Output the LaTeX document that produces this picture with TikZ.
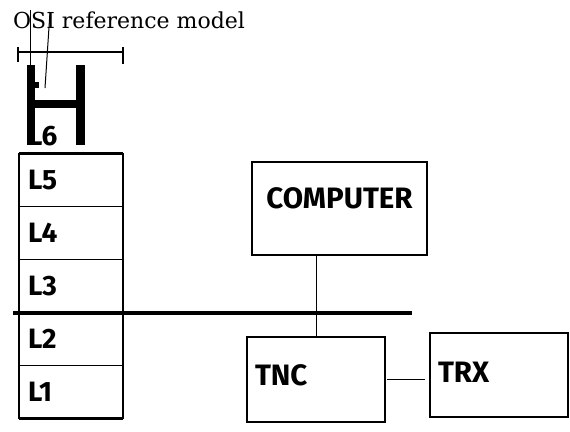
\documentclass[tikz,border=0pt]{standalone}
\usepackage{fontspec}
\setsansfont{Fira Sans}
\newfontfamily\titlefont{DejaVu Serif}
\usetikzlibrary{positioning,calc}

\begin{document}
\begin{tikzpicture}[
        x=1pt, y=-1pt,
        layer/.style={draw, line width=1.1pt, outer sep=0pt, minimum width=104pt, minimum height=53pt,
            inner xsep=9pt, text width=86pt, align=left, font=\sffamily\bfseries\fontsize{28}{32}\selectfont},
        unit/.style={draw, line width=1.2pt, outer sep=0pt, inner ysep=0pt, align=left,
            font=\sffamily\bfseries\fontsize{29.5}{34}\selectfont},
        bar/.style={line width=3.5pt},
        wire/.style={line width=1pt},
    ]
        \useasboundingbox (0,0) rectangle (570,431);

        % title and the two leader strokes
        \node[anchor=base west, inner sep=0pt, font=\titlefont\fontsize{22}{26}\selectfont] (title) at (13,28) {OSI reference model};
        \draw[wire] (30,10) -- (30,65);
        \draw[wire] (50,12) -- (45,88);

        % bracket over the top layer
        \draw[line width=1.3pt] (18,52) -- (123,52);
        \draw[line width=1.2pt] (18,47) -- (18,62);
        \draw[line width=1.2pt] (123,47) -- (123,64);

        % layer stack
        \node[layer] (L5) at (71,180) {L5};
        \node[layer, below=0pt of L5] (L4) {L4};
        \node[layer, below=0pt of L4] (L3) {L3};
        \node[layer, below=0pt of L3] (L2) {L2};
        \node[layer, below=0pt of L2] (L1) {L1};
        \node[layer, draw=none, above=0pt of L5, yshift=-9pt] (L6) {L6};

        % the big H drawn over L6
        \fill (27,65) rectangle (35,145);
        \fill (76,65) rectangle (85,145);
        \fill (35,100) rectangle (76,108);
        \fill (35,82) rectangle (39,88);
        \draw[line width=1.2pt] (L5.north west) -- ++(0,8);
        \draw[line width=1.2pt] (L5.north east) -- ++(0,8);

        \draw[bar] (L5.north west) -- (L5.north east);
        \draw[bar] (L1.south west) -- (L1.south east);

        % station
        \node[unit, anchor=north west, minimum width=175pt, text width=159pt, align=center,
            text height=46pt, text depth=47pt] (computer) at (252,162) {COMPUTER};
        \node[unit, anchor=north west, minimum width=138pt, inner xsep=8pt, text width=122pt,
            text height=48pt, text depth=37pt] (tnc) at (247,337) {TNC};
        \node[unit, anchor=north west, minimum width=138pt, inner xsep=8pt, text width=122pt,
            text height=49pt, text depth=35pt] (trx) at (430,333) {TRX};

        \draw[wire] (tnc.north) -- (tnc.north |- computer.south);
        \draw[wire] ($(tnc.east)+(2,0)$) -- ($(tnc.east -| trx.west)+(-5,0)$);

        % boundary between L3 and L2
        \coordinate (busL) at (13,313);
        \coordinate (busR) at (412,313);
        \draw[bar] (busL) -- (busR);
    \end{tikzpicture}
\end{document}
